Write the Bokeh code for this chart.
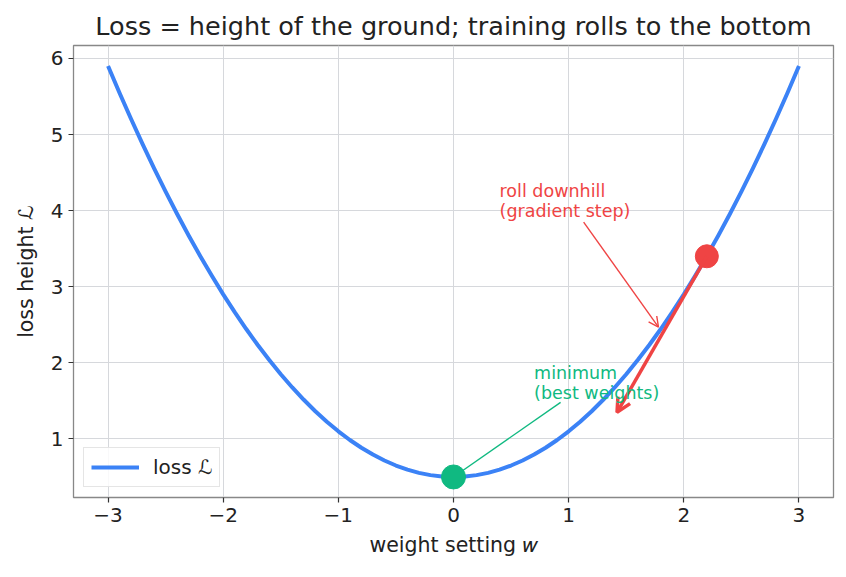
from bokeh.plotting import figure
from bokeh.models import (ColumnDataSource, Arrow, OpenHead, FixedTicker, Label)
from bokeh.embed import file_html
from bokeh.resources import INLINE

# Loss curve sampled along the weight axis
w_vals = [-3.0, -2.9, -2.8, -2.7, -2.6, -2.5, -2.4, -2.3, -2.2, -2.1,
          -2.0, -1.9, -1.8, -1.7, -1.6, -1.5, -1.4, -1.3, -1.2, -1.1,
          -1.0, -0.9, -0.8, -0.7, -0.6, -0.5, -0.4, -0.3, -0.2, -0.1,
          0.0, 0.1, 0.2, 0.3, 0.4, 0.5, 0.6, 0.7, 0.8, 0.9,
          1.0, 1.1, 1.2, 1.3, 1.4, 1.5, 1.6, 1.7, 1.8, 1.9,
          2.0, 2.1, 2.2, 2.3, 2.4, 2.5, 2.6, 2.7, 2.8, 2.9, 3.0]
loss_vals = [5.9, 5.546, 5.204, 4.874, 4.556, 4.25, 3.956, 3.674, 3.404, 3.146,
             2.9, 2.666, 2.444, 2.234, 2.036, 1.85, 1.676, 1.514, 1.364, 1.226,
             1.1, 0.986, 0.884, 0.794, 0.716, 0.65, 0.596, 0.554, 0.524, 0.506,
             0.5, 0.506, 0.524, 0.554, 0.596, 0.65, 0.716, 0.794, 0.884, 0.986,
             1.1, 1.226, 1.364, 1.514, 1.676, 1.85, 2.036, 2.234, 2.444, 2.666,
             2.9, 3.146, 3.404, 3.674, 3.956, 4.25, 4.556, 4.874, 5.204, 5.546, 5.9]

# Current position, gradient step target and the minimum
ball_w, ball_loss = [2.2], [3.4]
step_w, step_loss = 1.42, 1.35
min_w, min_loss = [0.0], [0.5]

# Annotation anchors
roll_text_w, roll_text_loss = 0.4, 4.0
roll_arrow_from = (1.13, 3.85)
roll_arrow_to = (1.78, 2.47)
min_text_w, min_text_loss = 0.7, 1.6
min_arrow_from = (0.93, 1.48)

x_ticks = [-3, -2, -1, 0, 1, 2, 3]
x_tick_labels = ["\u22123", "\u22122", "\u22121", "0", "1", "2", "3"]
y_ticks = [1, 2, 3, 4, 5, 6]
y_tick_labels = ["1", "2", "3", "4", "5", "6"]

BLUE = "#3b82f6"
RED = "#ef4444"
GREEN = "#10b981"
FONT = "DejaVu Sans"
INK = "#222222"

p = figure(width=846, height=577, x_range=(-3.3, 3.3), y_range=(0.23, 6.17),
           output_backend="svg", toolbar_location=None,
           min_border_left=73, min_border_right=13, min_border_top=45,
           min_border_bottom=80,
           title="Loss = height of the ground; training rolls to the bottom")

p.background_fill_color = "white"
p.border_fill_color = "white"
p.outline_line_color = "#888888"
p.outline_line_width = 1.3

p.title.text_font = FONT
p.title.text_font_size = "25.5px"
p.title.text_font_style = "normal"
p.title.text_color = INK
p.title.align = "center"
p.title.standoff = 9

for ax, ticks, labels in ((p.xaxis[0], x_ticks, x_tick_labels),
                          (p.yaxis[0], y_ticks, y_tick_labels)):
    ax.ticker = FixedTicker(ticks=ticks)
    ax.major_label_overrides = {t: s for t, s in zip(ticks, labels)}
    ax.axis_line_color = None
    ax.major_tick_line_color = "#333333"
    ax.major_tick_line_width = 1.2
    ax.major_tick_out = 5
    ax.major_tick_in = 0
    ax.minor_tick_line_color = None
    ax.major_label_text_font = FONT
    ax.major_label_text_font_size = "20px"
    ax.major_label_text_color = INK
    ax.major_label_standoff = 5
    ax.axis_label_text_font = FONT
    ax.axis_label_text_font_size = "20.5px"
    ax.axis_label_text_font_style = "normal"
    ax.axis_label_text_color = INK

p.xaxis.axis_label = "weight setting \U0001D464"
p.yaxis.axis_label = "loss height \u2112"
p.xaxis.axis_label_standoff = 8
p.yaxis.axis_label_standoff = 10

p.xgrid.grid_line_color = "#d6d8dc"
p.ygrid.grid_line_color = "#d6d8dc"
p.xgrid.grid_line_width = 1
p.ygrid.grid_line_width = 1

src = ColumnDataSource(dict(w=w_vals, loss=loss_vals))
p.line("w", "loss", source=src, line_color=BLUE, line_width=4,
       line_join="round", legend_label="loss \u2112")

# Thin annotation arrows (kept under the markers)
p.add_layout(Arrow(end=OpenHead(size=10, line_color=RED, line_width=1.4),
                   x_start=roll_arrow_from[0], y_start=roll_arrow_from[1],
                   x_end=roll_arrow_to[0], y_end=roll_arrow_to[1],
                   line_color=RED, line_width=1.4, level="underlay"))
p.add_layout(Arrow(end=OpenHead(size=10, line_color=GREEN, line_width=1.4),
                   x_start=min_arrow_from[0], y_start=min_arrow_from[1],
                   x_end=min_w[0], y_end=min_loss[0],
                   line_color=GREEN, line_width=1.4, level="underlay"))

# Gradient step arrow
p.add_layout(Arrow(end=OpenHead(size=14, line_color=RED, line_width=3.5),
                   x_start=ball_w[0], y_start=ball_loss[0],
                   x_end=step_w, y_end=step_loss,
                   line_color=RED, line_width=3.5))

p.scatter(ball_w, ball_loss, size=23, fill_color=RED, line_color=RED)
p.scatter(min_w, min_loss, size=24, fill_color=GREEN, line_color=GREEN)

# Text callouts (two lines each, last line baseline at the anchor)
line_gap = 0.26
for txt, yy in (("roll downhill", roll_text_loss + line_gap),
                ("(gradient step)", roll_text_loss)):
    p.add_layout(Label(x=roll_text_w, y=yy, text=txt, text_color=RED,
                       text_font=FONT, text_font_size="17.5px",
                       text_baseline="alphabetic", text_align="left"))
for txt, yy in (("minimum", min_text_loss + line_gap),
                ("(best weights)", min_text_loss)):
    p.add_layout(Label(x=min_text_w, y=yy, text=txt, text_color=GREEN,
                       text_font=FONT, text_font_size="17.5px",
                       text_baseline="alphabetic", text_align="left"))

lg = p.legend[0]
lg.location = "bottom_left"
lg.margin = 10
lg.padding = 7
lg.glyph_width = 48
lg.glyph_height = 24
lg.label_standoff = 14
lg.label_text_font = FONT
lg.label_text_font_size = "20px"
lg.label_text_color = INK
lg.border_line_color = "#cccccc"
lg.border_line_width = 1.2
lg.background_fill_alpha = 0.85

open("out.html", "w").write(file_html(p, INLINE))
